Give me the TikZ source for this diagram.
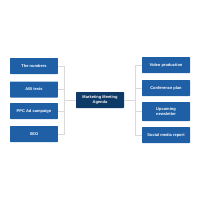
\documentclass[tikz,border=0pt]{standalone}
\usepackage{fontspec}
\setmainfont{Liberation Sans}
\usepackage{xcolor}
\usetikzlibrary{positioning,calc}
\definecolor{boxblue}{HTML}{1F5FA6}
\definecolor{navy}{HTML}{0E3A68}
\definecolor{linegray}{HTML}{DADADA}
\begin{document}
\begin{tikzpicture}[x=0.05cm,y=-0.05cm,
    topic/.style={rectangle, rounded corners=1pt, fill=boxblue, text=white, minimum width=2.4cm, minimum height=0.8cm, inner sep=1pt, align=center, font=\fontsize{5.7}{6}\selectfont\bfseries},
    hub/.style={topic, fill=navy},
    link/.style={linegray, semithick}
]
\useasboundingbox (0,0) rectangle (200,200);
\node[hub] (agenda) at (100,100) {Marketing Meeting\\Agenda};

\node[topic] (l1) at (34,66)    {The numbers};
\node[topic] (l2) at (34,89.5)  {A/B tests};
\node[topic] (l3) at (34,111)   {PPC Ad campaign};
\node[topic] (l4) at (34,134)   {SEO};

\node[topic] (r1) at (166,65)    {Video production};
\node[topic] (r2) at (166,88)    {Conference plan};
\node[topic, minimum height=0.95cm] (r3) at (166,111.5) {Upcoming\\newsletter};
\node[topic] (r4) at (166,135)   {Social media report};

\coordinate (lj) at (64,100);
\coordinate (rj) at (135,100);
\foreach \b in {l1,l2,l3,l4}{\draw[link] (\b.east) -| (lj);}
\foreach \b in {r1,r2,r3,r4}{\draw[link] (\b.west) -| (rj);}
\draw[link] (lj) -- (agenda.west);
\draw[link] (rj) -- (agenda.east);
\end{tikzpicture}
\end{document}
